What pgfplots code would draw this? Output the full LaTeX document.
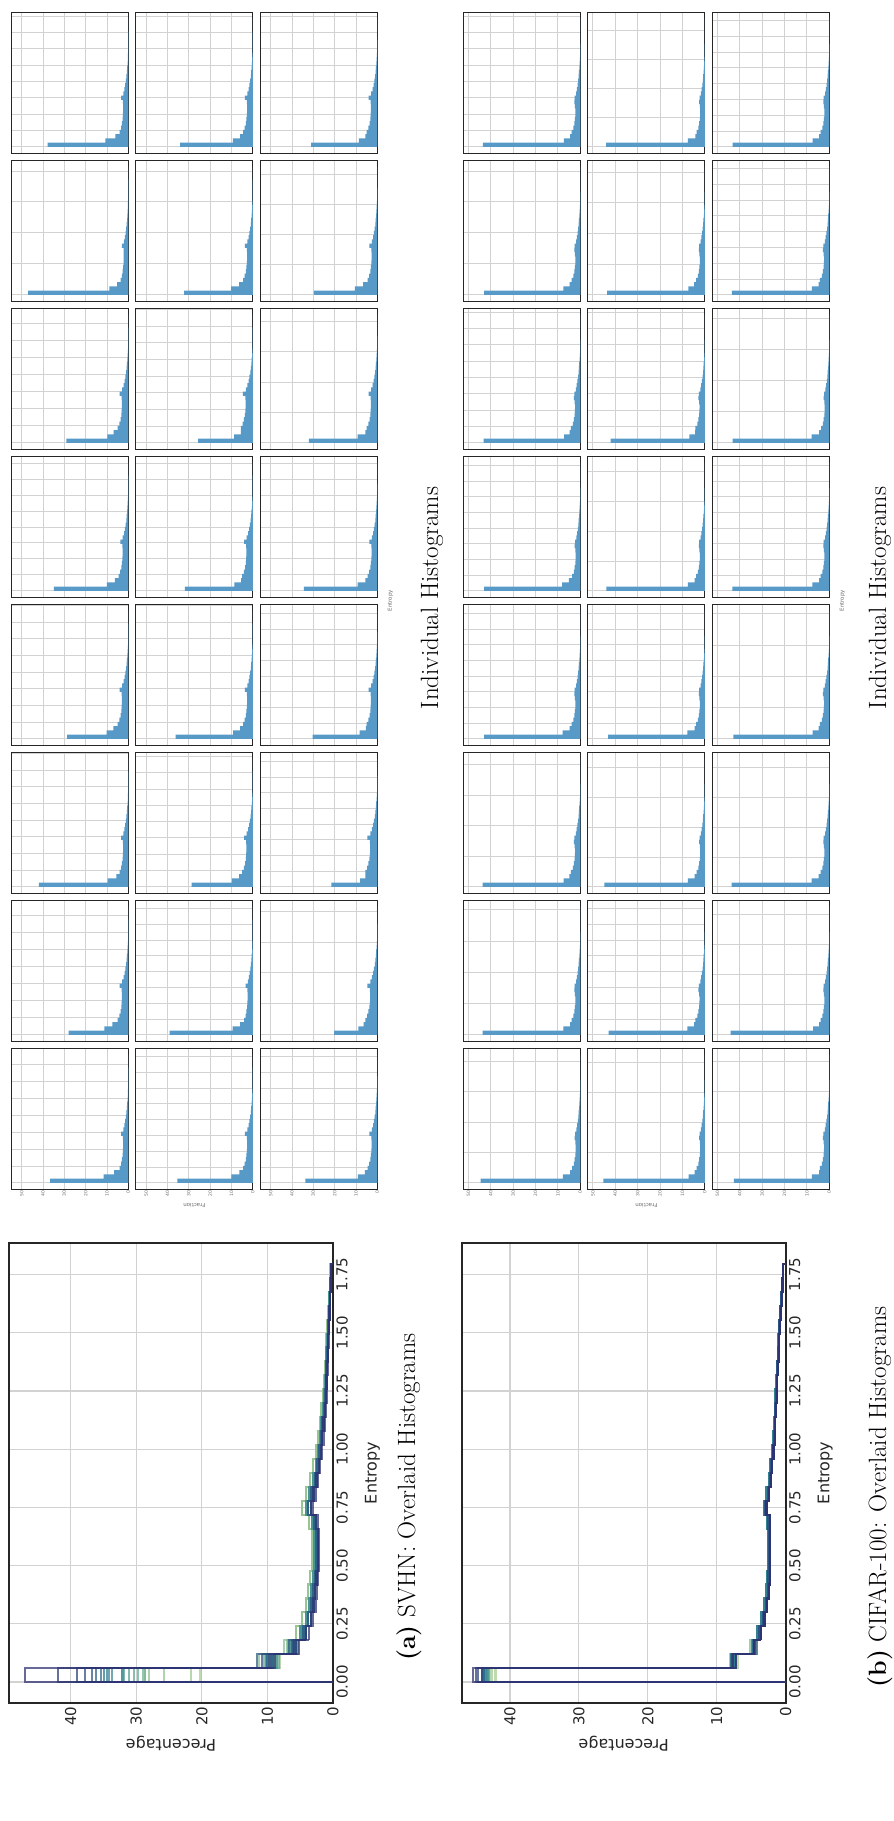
\documentclass[border=0pt]{standalone}
\usepackage{fontspec}
\usepackage{pgfplots}
\usepackage{pgfplotstable}
\pgfplotsset{compat=1.18}
\newfontfamily\dejavu{DejaVu Sans}

% line and fill colours
\definecolor{gridgray}{RGB}{210,210,210}
\definecolor{framegray}{RGB}{38,38,38}
\definecolor{ticktext}{RGB}{38,38,38}
\definecolor{smalltext}{RGB}{110,110,110}
\definecolor{barblue}{RGB}{87,153,199}
% 24-step "crest" palette, light green to dark blue
\definecolor{crest0}{RGB}{165,205,144}
\definecolor{crest1}{RGB}{156,200,144}
\definecolor{crest2}{RGB}{146,195,145}
\definecolor{crest3}{RGB}{137,190,145}
\definecolor{crest4}{RGB}{128,185,146}
\definecolor{crest5}{RGB}{119,180,146}
\definecolor{crest6}{RGB}{109,174,146}
\definecolor{crest7}{RGB}{100,169,147}
\definecolor{crest8}{RGB}{92,164,147}
\definecolor{crest9}{RGB}{85,158,147}
\definecolor{crest10}{RGB}{79,153,147}
\definecolor{crest11}{RGB}{72,147,147}
\definecolor{crest12}{RGB}{66,141,146}
\definecolor{crest13}{RGB}{59,135,146}
\definecolor{crest14}{RGB}{53,130,146}
\definecolor{crest15}{RGB}{46,124,146}
\definecolor{crest16}{RGB}{44,116,143}
\definecolor{crest17}{RGB}{44,106,139}
\definecolor{crest18}{RGB}{44,97,135}
\definecolor{crest19}{RGB}{44,87,131}
\definecolor{crest20}{RGB}{44,78,127}
\definecolor{crest21}{RGB}{44,68,122}
\definecolor{crest22}{RGB}{44,59,118}
\definecolor{crest23}{RGB}{44,49,114}

% SVHN: first bins of each of the 24 runs (bin index = left bin edge)
\pgfplotstableread{
bin m0 m1 m2 m3 m4 m5 m6 m7 m8 m9 m10 m11 m12 m13 m14 m15 m16 m17 m18 m19 m20 m21 m22 m23
0 0 0 0 0 0 0 0 0 0 0 0 0 0 0 0 0 0 0 0 0 0 0 0 0
0 36.7 28.0 41.9 28.7 34.9 29.0 47.0 37.8 35.4 39.0 28.7 36.2 31.9 25.7 32.2 34.1 33.7 20.2 21.6 30.3 34.5 32.1 29.7 31.1
1 11.6 11.25 9.7 10.2 10.0 9.8 8.9 10.8 10.0 9.5 9.8 9.2 8.6 8.8 10.2 9.4 9.1 8.9 8.1 8.3 9.2 9.2 10.5 8.6
2 6.7 7.5 5.6 7.0 6.25 6.9 5.2 6.1 6.25 5.9 6.4 5.9 5.5 5.6 6.4 5.9 5.8 6.4 5.6 5.3 5.6 5.6 6.7 5.6
3 4.05 4.95 4.05 4.95 4.5 4.95 3.6 4.05 4.5 4.05 4.95 4.5 4.95 5.63 4.5 4.5 4.5 5.63 5.63 4.95 4.5 4.95 4.5 4.95
}\svhnhead
% SVHN overlaid bins 3-29, five tail shapes
\pgfplotstableread{
bin A B C D E
3 3.6 4.05 4.5 4.95 5.63
4 3.04 3.42 3.8 4.18 4.75
5 2.64 2.97 3.3 3.63 4.13
6 2.4 2.7 3.0 3.3 3.75
7 2.24 2.52 2.8 3.08 3.5
8 2.08 2.34 2.6 2.86 3.25
9 2.08 2.34 2.6 2.86 3.25
10 2.08 2.34 2.6 2.86 3.25
11 2.32 2.61 2.9 3.19 3.63
12 3.04 3.42 3.8 4.18 4.75
13 2.64 2.97 3.3 3.63 4.13
14 2.24 2.52 2.8 3.08 3.5
15 1.92 2.16 2.4 2.64 3.0
16 1.68 1.89 2.1 2.31 2.63
17 1.44 1.62 1.8 1.98 2.25
18 1.28 1.44 1.6 1.76 2.0
19 1.12 1.26 1.4 1.54 1.75
20 0.96 1.08 1.2 1.32 1.5
21 0.88 0.99 1.1 1.21 1.38
22 0.8 0.9 1.0 1.1 1.25
23 0.72 0.81 0.9 0.99 1.13
24 0.64 0.72 0.8 0.88 1.0
25 0.56 0.63 0.7 0.77 0.88
26 0.48 0.54 0.6 0.66 0.75
27 0.4 0.45 0.5 0.55 0.63
28 0.32 0.36 0.4 0.44 0.5
29 0.24 0.27 0.3 0.33 0.38
30 0 0 0 0 0
}\svhntail
% SVHN individual histograms, bins 3-29
\pgfplotstableread{
bin A B C D E
3 3.6 4.05 4.5 4.95 5.63
4 3.04 3.42 3.8 4.18 4.75
5 2.64 2.97 3.3 3.63 4.13
6 2.4 2.7 3.0 3.3 3.75
7 2.24 2.52 2.8 3.08 3.5
8 2.16 2.43 2.7 2.97 3.38
9 2.16 2.43 2.7 2.97 3.38
10 2.24 2.52 2.8 3.08 3.5
11 2.96 3.33 3.7 4.07 4.63
12 2.08 2.34 2.6 2.86 3.25
13 1.6 1.8 2.0 2.2 2.5
14 1.28 1.44 1.6 1.76 2.0
15 1.0 1.13 1.25 1.38 1.56
16 0.76 0.86 0.95 1.05 1.19
17 0.6 0.68 0.75 0.83 0.94
18 0.44 0.5 0.55 0.61 0.69
19 0.32 0.36 0.4 0.44 0.5
20 0.22 0.25 0.28 0.31 0.35
21 0.14 0.16 0.18 0.2 0.23
22 0.08 0.09 0.1 0.11 0.13
23 0.05 0.05 0.06 0.07 0.08
24 0.03 0.04 0.04 0.04 0.05
25 0.02 0.02 0.02 0.02 0.03
26 0.02 0.02 0.02 0.02 0.02
27 0.01 0.01 0.01 0.01 0.01
28 0.01 0.01 0.01 0.01 0.01
29 0.01 0.01 0.01 0.01 0.01
30 0 0 0 0 0
}\svhnsmall

% CIFAR-100: first bins of each of the 24 runs
\pgfplotstableread{
bin m0 m1 m2 m3 m4 m5 m6 m7 m8 m9 m10 m11 m12 m13 m14 m15 m16 m17 m18 m19 m20 m21 m22 m23
0 0 0 0 0 0 0 0 0 0 0 0 0 0 0 0 0 0 0 0 0 0 0 0 0
0 44.6 43.7 43.7 43.0 43.0 43.2 43.0 43.5 45.3 43.0 44.9 43.2 44.0 42.1 43.7 44.1 42.6 44.1 43.7 42.9 43.3 43.2 43.5 43.2
1 7.8 7.6 7.5 7.9 8.1 7.2 7.6 7.3 7.2 7.8 7.6 7.8 7.6 6.9 7.3 7.6 7.8 7.2 7.9 7.5 7.6 7.9 7.8 7.5
2 4.6 4.6 4.9 4.8 5.1 4.8 4.8 4.5 4.6 4.8 4.6 4.6 4.5 4.3 4.8 4.2 4.5 4.5 4.8 4.8 4.5 4.5 4.8 4.5
3 3.63 3.9 4.17 3.9 3.63 4.17 3.9 3.9 3.63 4.17 3.63 3.9 3.9 4.17 3.9 3.63 4.17 3.9 3.9 4.17 3.9 3.63 4.17 3.9
}\cifarhead
% CIFAR-100 overlaid bins 3-29, three tail shapes
\pgfplotstableread{
bin A B C
3 3.63 3.9 4.17
4 3.07 3.3 3.53
5 2.70 2.9 3.10
6 2.42 2.6 2.78
7 2.33 2.5 2.68
8 2.23 2.4 2.57
9 2.23 2.4 2.57
10 2.23 2.4 2.57
11 2.33 2.5 2.68
12 2.79 3.0 3.21
13 2.42 2.6 2.78
14 2.14 2.3 2.46
15 1.95 2.1 2.25
16 1.77 1.9 2.03
17 1.58 1.7 1.82
18 1.49 1.6 1.71
19 1.40 1.5 1.61
20 1.30 1.4 1.50
21 1.21 1.3 1.39
22 1.12 1.2 1.28
23 1.02 1.1 1.18
24 0.93 1.0 1.07
25 0.84 0.9 0.96
26 0.74 0.8 0.86
27 0.60 0.65 0.70
28 0.47 0.5 0.54
29 0.33 0.35 0.37
30 0 0 0
}\cifartail
% CIFAR-100 individual histograms, bins 3-29
\pgfplotstableread{
bin A B C
3 3.63 3.9 4.17
4 2.88 3.1 3.32
5 2.51 2.7 2.89
6 2.23 2.4 2.57
7 2.09 2.25 2.41
8 2.05 2.2 2.35
9 2.23 2.4 2.57
10 2.51 2.7 2.89
11 2.33 2.5 2.68
12 1.72 1.85 1.98
13 1.4 1.5 1.6
14 1.12 1.2 1.28
15 0.88 0.95 1.02
16 0.7 0.75 0.8
17 0.56 0.6 0.64
18 0.42 0.45 0.48
19 0.28 0.3 0.32
20 0.17 0.18 0.19
21 0.09 0.1 0.11
22 0.06 0.06 0.06
23 0.04 0.04 0.04
24 0.02 0.02 0.02
25 0.02 0.02 0.02
26 0.01 0.01 0.01
27 0.01 0.01 0.01
28 0.01 0.01 0.01
29 0.01 0.01 0.01
30 0 0 0
}\cifarsmall

\pgfplotsset{
  ovlaxis/.style={
    scale only axis, width=460pt, height=324pt, anchor=south west,
    xmin=-1.5, xmax=31.5, ymin=0,
    xtick={0,4.176,8.353,12.529,16.706,20.882,25.059,29.235},
    xticklabels={0.00,0.25,0.50,0.75,1.00,1.25,1.50,1.75},
    ytick={0,10,20,30,40},
    /pgf/number format/assume math mode=true,
    grid=major, major grid style={gridgray, line width=1.2pt},
    axis line style={framegray, line width=2.2pt},
    tick style={draw=none},
    ticklabel style={font=\dejavu\fontsize{15}{18}\selectfont, text=ticktext},
    xlabel=Entropy, ylabel=Precentage,
    label style={font=\dejavu\fontsize{16}{19}\selectfont, text=ticktext},
    xlabel style={at={(axis description cs:0.5,-0.122)}, anchor=center},
    ylabel style={at={(axis description cs:-0.089,0.5)}, anchor=center},
  },
  ovl/.style={const plot mark left, no marks, line width=2.1pt, draw opacity=0.72},
  smallax/.style={
    scale only axis, width=141pt, height=117pt, anchor=south west,
    xmin=-1.5, xmax=31.5, ymin=0,
    ytick={0,10,20,30,40,50}, xticklabels={},
    /pgf/number format/assume math mode=true,
    grid=major, major grid style={gridgray, line width=0.9pt},
    axis line style={framegray, line width=1.3pt},
    tick style={draw=none},
    yticklabel style={font=\dejavu\fontsize{4.5}{5}\selectfont, text=smalltext, inner sep=1pt},
    label style={font=\dejavu\fontsize{5.5}{6}\selectfont, text=smalltext},
    ylabel style={at={(axis description cs:-0.118,0.5)}, anchor=center},
    xlabel style={at={(axis description cs:1.025,-0.113)}, anchor=center},
  },
  bars/.style={ybar interval=0.72, fill=barblue, draw=none},
}

\begin{document}
\begin{tikzpicture}[x=1pt,y=1pt]
\begin{scope}[rotate=90, transform shape]
\path[use as bounding box] (0,0) rectangle (1821,894);

% ---------- SVHN: all runs overlaid ----------
\begin{axis}[ovlaxis, at={(118pt,561pt)}, ymax=49.4]
\foreach \j/\cls [count=\n from 0] in {17/E,18/E,13/E,1/D,3/D,10/D,5/D,22/C,19/D,23/D,12/D,21/D,14/C,16/C,15/C,20/C,4/C,8/C,11/C,0/B,7/B,9/B,2/B,6/A}{
  \edef\doplot{\noexpand\addplot[ovl, draw=crest\n] table[x=bin, y=m\j] {\noexpand\svhnhead};
    \noexpand\addplot[ovl, draw=crest\n] table[x=bin, y=\cls] {\noexpand\svhntail};}
  \doplot
}
\end{axis}

% ---------- CIFAR-100: all runs overlaid ----------
\begin{axis}[ovlaxis, at={(118pt,108.3pt)}, ymax=47.0]
\foreach \j/\cls [count=\n from 0] in {13/C,16/C,19/C,3/B,4/A,6/B,9/C,5/C,11/B,21/A,23/B,20/B,7/B,22/C,1/B,2/C,14/B,18/B,12/B,15/A,17/B,0/A,10/A,8/A}{
  \edef\doplot{\noexpand\addplot[ovl, draw=crest\n] table[x=bin, y=m\j] {\noexpand\cifarhead};
    \noexpand\addplot[ovl, draw=crest\n] table[x=bin, y=\cls] {\noexpand\cifartail};}
  \doplot
}
\end{axis}

% ---------- SVHN: one histogram per run ----------
\foreach \j/\cls/\d in {0/B/3.95,1/D/3.98,2/B/3.90,3/D/3.90,4/C/3.74,5/D/3.98,6/A/7.25,7/B/3.82,
  8/C/3.70,9/B/3.70,10/D/3.82,11/C/3.90,12/D/3.74,13/E/3.90,14/C/7.25,15/C/3.82,
  16/C/3.70,17/E/7.25,18/E/3.67,19/D/3.67,20/C/3.74,21/D/7.10,22/C/7.02,23/D/3.82}{
  \pgfmathtruncatemacro\r{floor(\j/8)}
  \pgfmathtruncatemacro\cc{\j-8*\r}
  \pgfmathsetmacro\ax{631.7+148*\cc}
  \pgfmathsetmacro\ay{765.7-124.5*\r}
  \begin{axis}[smallax, at={(\ax pt,\ay pt)}, ymax=54.9, xtick distance=\d,
      yticklabel={\ifnum\cc=0 \pgfmathprintnumber{\tick}\fi},
      ylabel={\ifnum\j=8 Fraction\fi}, xlabel={\ifnum\j=19 Entropy\fi}]
    \addplot[bars] table[x=bin, y=m\j] {\svhnhead};
    \addplot[bars] table[x=bin, y=\cls] {\svhnsmall};
  \end{axis}
}

% ---------- CIFAR-100: one histogram per run ----------
\foreach \j/\cls/\d in {0/A/7.10,1/B/7.31,2/C/7.14,3/B/3.67,4/A/3.67,5/C/3.82,6/B/7.25,7/B/3.82,
  8/A/7.02,9/C/3.70,10/A/6.98,11/B/3.67,12/B/6.99,13/C/3.82,14/B/7.18,15/A/6.79,
  16/C/7.10,17/B/7.07,18/B/6.98,19/C/7.31,20/B/3.67,21/A/7.29,22/C/3.70,23/B/3.70}{
  \pgfmathtruncatemacro\r{floor(\j/8)}
  \pgfmathtruncatemacro\cc{\j-8*\r}
  \pgfmathsetmacro\ax{631.7+148*\cc}
  \pgfmathsetmacro\ay{313.7-124.5*\r}
  \begin{axis}[smallax, at={(\ax pt,\ay pt)}, ymax=52.3, xtick distance=\d,
      yticklabel={\ifnum\cc=0 \pgfmathprintnumber{\tick}\fi},
      ylabel={\ifnum\j=8 Fraction\fi}, xlabel={\ifnum\j=19 Entropy\fi}]
    \addplot[bars] table[x=bin, y=m\j] {\cifarhead};
    \addplot[bars] table[x=bin, y=\cls] {\cifarsmall};
  \end{axis}
}

% ---------- captions ----------
\node[font=\fontsize{25}{30}\selectfont] at (324,485) {\textbf{(a)} SVHN: Overlaid Histograms};
\node[font=\fontsize{25}{30}\selectfont] at (1223,462) {Individual Histograms};
\node[font=\fontsize{25}{30}\selectfont] at (324,14) {\textbf{(b)} CIFAR-100: Overlaid Histograms};
\node[font=\fontsize{25}{30}\selectfont] at (1223,14) {Individual Histograms};
\end{scope}
\end{tikzpicture}
\end{document}
